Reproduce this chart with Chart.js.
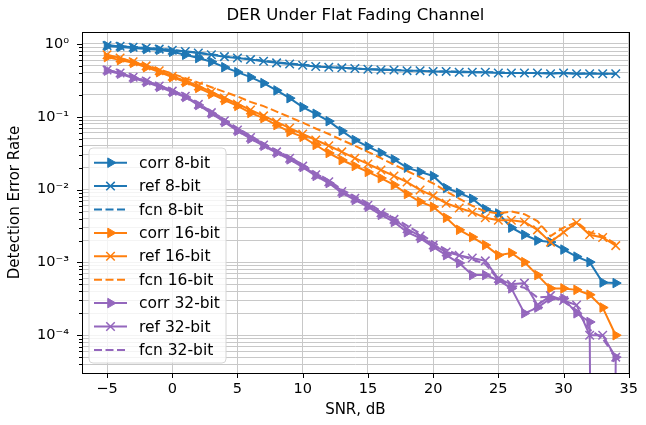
<!DOCTYPE html>
<html>
<head>
<meta charset="utf-8">
<script src="https://cdn.jsdelivr.net/npm/chart.js@4"></script>
<style>
  html, body { margin: 0; padding: 0; background: #fff; }
</style>
</head>
<body>
<canvas id="der" width="646" height="425"></canvas>
<script>
// SNR points (dB)
const snr = [-5, -4, -3, -2, -1, 0, 1, 2, 3, 4, 5, 6, 7, 8, 9, 10, 11, 12, 13, 14,
  15, 16, 17, 18, 19, 20, 21, 22, 23, 24, 25, 26, 27, 28, 29, 30, 31, 32, 33, 34];

// detection error rate
const corr8 = [0.94, 0.91, 0.88, 0.85, 0.83, 0.78, 0.71, 0.64, 0.57, 0.48, 0.41, 0.35, 0.29, 0.23, 0.18, 0.136, 0.11, 0.087, 0.064, 0.048,
  0.039, 0.032, 0.026, 0.020, 0.0175, 0.0154, 0.0105, 0.0090, 0.0075, 0.0054, 0.0047, 0.0030, 0.0024, 0.0020, 0.0019, 0.0015, 0.0012, 0.00101, 0.00053, 0.00052];
const ref8 = [0.95, 0.93, 0.90, 0.88, 0.85, 0.82, 0.79, 0.75, 0.71, 0.67, 0.64, 0.61, 0.58, 0.55, 0.53, 0.51, 0.49, 0.48, 0.47, 0.46,
  0.45, 0.44, 0.44, 0.43, 0.43, 0.42, 0.42, 0.41, 0.41, 0.41, 0.40, 0.40, 0.40, 0.40, 0.39, 0.40, 0.39, 0.39, 0.39, 0.39];
const fcn8 = [0.96, 0.93, 0.91, 0.88, 0.86, 0.83, 0.79, 0.76, 0.72, 0.68, 0.65, 0.62, 0.59, 0.56, 0.54, 0.52, 0.50, 0.48, 0.47, 0.46,
  0.45, 0.45, 0.44, 0.43, 0.43, 0.42, 0.42, 0.42, 0.41, 0.41, 0.41, 0.40, 0.40, 0.40, 0.40, 0.40, 0.39, 0.40, 0.39, 0.39];

const corr16 = [0.66, 0.60, 0.55, 0.48, 0.41, 0.35, 0.30, 0.249, 0.206, 0.170, 0.141, 0.113, 0.096, 0.077, 0.062, 0.053, 0.041, 0.0318, 0.0255, 0.0211,
  0.0175, 0.0144, 0.0116, 0.0087, 0.0068, 0.0058, 0.0041, 0.0028, 0.00223, 0.00173, 0.00126, 0.00135, 0.00101, 0.00067, 0.00044, 0.00044, 0.00042, 0.00036, 0.00024, 0.0001];
const ref16 = [0.71, 0.64, 0.57, 0.50, 0.43, 0.36, 0.31, 0.265, 0.219, 0.181, 0.150, 0.124, 0.103, 0.085, 0.070, 0.058, 0.048, 0.040, 0.033, 0.027,
  0.0225, 0.0186, 0.0154, 0.0127, 0.0099, 0.0082, 0.0065, 0.0056, 0.0049, 0.0041, 0.0038, 0.0038, 0.0036, 0.0028, 0.0019, 0.0026, 0.0035, 0.0024, 0.0022, 0.0017];
const fcn16 = [0.69, 0.63, 0.57, 0.51, 0.45, 0.39, 0.34, 0.295, 0.255, 0.22, 0.19, 0.16, 0.14, 0.118, 0.099, 0.083, 0.069, 0.058, 0.048, 0.040,
  0.033, 0.027, 0.022, 0.018, 0.0148, 0.0122, 0.0095, 0.0075, 0.0060, 0.0050, 0.0047, 0.0050, 0.0046, 0.0037, 0.0023, 0.0030, 0.0036, 0.0026, 0.0023, 0.0018];

const corr32 = [0.43, 0.39, 0.34, 0.30, 0.257, 0.219, 0.187, 0.145, 0.111, 0.085, 0.064, 0.050, 0.040, 0.032, 0.026, 0.0204, 0.0154, 0.0123, 0.0090, 0.0072,
  0.0058, 0.0045, 0.0036, 0.0026, 0.00216, 0.00163, 0.00126, 0.00098, 0.00067, 0.00067, 0.00057, 0.00044, 0.00020, 0.00024, 0.00032, 0.00032, 0.00020, 0.000152, 0, 0.00005];
const ref32 = [0.44, 0.40, 0.35, 0.31, 0.265, 0.225, 0.192, 0.148, 0.114, 0.088, 0.066, 0.052, 0.041, 0.033, 0.027, 0.021, 0.0160, 0.0128, 0.0094, 0.0076,
  0.0061, 0.0048, 0.0039, 0.0029, 0.0023, 0.00173, 0.00139, 0.00125, 0.00115, 0.00105, 0.00060, 0.00050, 0.00052, 0.00026, 0.00035, 0.00030, 0.00026, 0.0001, 0.0001, 0.00005];
const fcn32 = [0.44, 0.40, 0.36, 0.31, 0.27, 0.23, 0.195, 0.152, 0.118, 0.092, 0.070, 0.055, 0.043, 0.034, 0.028, 0.022, 0.0170, 0.0134, 0.0100, 0.0081,
  0.0065, 0.0051, 0.0041, 0.0032, 0.0025, 0.0019, 0.0015, 0.00125, 0.00110, 0.00095, 0.00058, 0.00048, 0.00045, 0.00033, 0.00034, 0.00029, 0.00022, 0.00012, 0.00009, 0.00005];

const labels = ["corr 8-bit", "ref 8-bit", "fcn 8-bit", "corr 16-bit", "ref 16-bit", "fcn 16-bit", "corr 32-bit", "ref 32-bit", "fcn 32-bit"];
const xTicks = [-5, 0, 5, 10, 15, 20, 25, 30, 35];
const decades = [-5, -4, -3, -2, -1, 0];
const mantissas = [1, 2, 3, 4, 5, 6, 7, 8, 9];

const BLUE = "#1f77b4";
const ORANGE = "#ff7f0e";
const PURPLE = "#9467bd";
const FONT = "'DejaVu Sans', sans-serif";
const Y_MIN = 3.03e-5;
const Y_MAX = 1.46;

const series = [
  [labels[0], corr8, BLUE, "corr"],
  [labels[1], ref8, BLUE, "ref"],
  [labels[2], fcn8, BLUE, "fcn"],
  [labels[3], corr16, ORANGE, "corr"],
  [labels[4], ref16, ORANGE, "ref"],
  [labels[5], fcn16, ORANGE, "fcn"],
  [labels[6], corr32, PURPLE, "corr"],
  [labels[7], ref32, PURPLE, "ref"],
  [labels[8], fcn32, PURPLE, "fcn"],
];

// zero errors fall off the bottom of a log axis, like matplotlib does
function floorZero(v) {
  return v > 0 ? v : 1e-30;
}

function makeDataset([label, values, color, kind], i) {
  const base = {
    label,
    data: snr.map((x, j) => ({ x, y: floorZero(values[j]) })),
    borderColor: color,
    backgroundColor: color,
    borderWidth: 2,
    tension: 0,
    order: series.length - i, // later series on top
  };
  if (kind === "corr") {
    return { ...base, pointStyle: "triangle", pointRotation: 90, pointRadius: 5.5, pointBorderWidth: 1 };
  }
  if (kind === "ref") {
    return { ...base, pointStyle: "crossRot", pointRadius: 6, pointBorderWidth: 1.5 };
  }
  return { ...base, pointRadius: 0, borderDash: [8, 3.5] };
}

const SUP = { "-": "\u207b", "0": "\u2070", "1": "\u00b9", "2": "\u00b2", "3": "\u00b3", "4": "\u2074", "5": "\u2075" };

function isDecade(v) {
  const e = Math.log10(v);
  return Math.abs(e - Math.round(e)) < 1e-9;
}

function decadeLabel(v) {
  const e = String(Math.round(Math.log10(v)));
  return "10" + e.split("").map((c) => SUP[c]).join("");
}

function drawMarker(ctx, kind, x, y, color) {
  ctx.save();
  ctx.strokeStyle = color;
  ctx.fillStyle = color;
  if (kind === "corr") {
    const r = 5.5;
    ctx.lineWidth = 1;
    ctx.beginPath();
    ctx.moveTo(x + r, y);
    ctx.lineTo(x - r / 2, y + r * 0.866);
    ctx.lineTo(x - r / 2, y - r * 0.866);
    ctx.closePath();
    ctx.fill();
    ctx.stroke();
  } else if (kind === "ref") {
    const d = 6 * Math.SQRT1_2;
    ctx.lineWidth = 1.5;
    ctx.beginPath();
    ctx.moveTo(x - d, y - d);
    ctx.lineTo(x + d, y + d);
    ctx.moveTo(x - d, y + d);
    ctx.lineTo(x + d, y - d);
    ctx.stroke();
  }
  ctx.restore();
}

const decorations = {
  id: "decorations",
  afterDatasetsDraw(chart) {
    const { ctx, chartArea: a } = chart;
    const yScale = chart.scales.y;
    const xScale = chart.scales.x;
    ctx.save();

    // spines
    ctx.strokeStyle = "#000";
    ctx.lineWidth = 1;
    ctx.strokeRect(Math.round(a.left) + 0.5, Math.round(a.top) + 0.5,
      Math.round(a.right - a.left), Math.round(a.bottom - a.top));

    // tick marks
    ctx.beginPath();
    xTicks.forEach((t) => {
      const px = Math.round(xScale.getPixelForValue(t)) + 0.5;
      ctx.moveTo(px, a.bottom);
      ctx.lineTo(px, a.bottom + 5);
    });
    yScale.ticks.forEach((t) => {
      const py = Math.round(yScale.getPixelForValue(t.value)) + 0.5;
      const len = isDecade(t.value) ? 5 : 3;
      ctx.moveTo(a.left - len, py);
      ctx.lineTo(a.left, py);
    });
    ctx.stroke();

    // legend
    const lx = 89, ly = 148, lw = 137, lh = 215, rad = 4;
    ctx.beginPath();
    ctx.moveTo(lx + rad, ly);
    ctx.arcTo(lx + lw, ly, lx + lw, ly + lh, rad);
    ctx.arcTo(lx + lw, ly + lh, lx, ly + lh, rad);
    ctx.arcTo(lx, ly + lh, lx, ly, rad);
    ctx.arcTo(lx, ly, lx + lw, ly, rad);
    ctx.closePath();
    ctx.fillStyle = "rgba(255,255,255,0.8)";
    ctx.fill();
    ctx.strokeStyle = "#d6d6d6";
    ctx.stroke();

    ctx.font = "15.5px " + FONT;
    ctx.textBaseline = "middle";
    ctx.textAlign = "left";
    series.forEach(([label, , color, kind], i) => {
      const cy = 162.7 + i * 23.4;
      ctx.save();
      ctx.strokeStyle = color;
      ctx.lineWidth = 2;
      if (kind === "fcn") ctx.setLineDash([8, 3.5]);
      ctx.beginPath();
      ctx.moveTo(94, cy);
      ctx.lineTo(127, cy);
      ctx.stroke();
      ctx.restore();
      drawMarker(ctx, kind, 110.5, cy, color);
      ctx.fillStyle = "#000";
      ctx.fillText(label, 139, cy + 1);
    });

    // title and axis labels
    const cx = (a.left + a.right) / 2;
    ctx.fillStyle = "#000";
    ctx.textAlign = "center";
    ctx.font = "16.5px " + FONT;
    ctx.fillText("DER Under Flat Fading Channel", cx, 16);
    ctx.font = "15px " + FONT;
    ctx.fillText("SNR, dB", cx, 410);
    ctx.translate(15, (a.top + a.bottom) / 2);
    ctx.rotate(-Math.PI / 2);
    ctx.fillText("Detection Error Rate", 0, 0);
    ctx.restore();
  },
};

const gridColor = "#c8c8c8";

new Chart(document.getElementById("der"), {
  type: "line",
  data: { datasets: series.map(makeDataset) },
  options: {
    responsive: false,
    devicePixelRatio: 1,
    animation: false,
    events: [],
    layout: { padding: { top: 32, right: 10, left: 0, bottom: 0 } },
    plugins: {
      legend: { display: false },
      title: { display: false },
      tooltip: { enabled: false },
    },
    scales: {
      x: {
        type: "linear",
        min: -6.92,
        max: 35,
        afterBuildTicks: (scale) => {
          scale.ticks = xTicks.map((value) => ({ value }));
        },
        afterFit: (scale) => {
          scale.height = 52;
        },
        ticks: {
          autoSkip: false,
          maxRotation: 0,
          padding: 8,
          color: "#000",
          font: { family: FONT, size: 14.5 },
          callback: (v) => String(v).replace("-", "\u2212"),
        },
        grid: { color: gridColor, lineWidth: 1, drawTicks: false },
        border: { display: false },
      },
      y: {
        type: "logarithmic",
        min: Y_MIN,
        max: Y_MAX,
        afterBuildTicks: (scale) => {
          const ticks = [];
          decades.forEach((d) => {
            mantissas.forEach((m) => {
              const value = m * Math.pow(10, d);
              if (value >= Y_MIN && value <= Y_MAX) ticks.push({ value, major: m === 1 });
            });
          });
          scale.ticks = ticks;
        },
        afterFit: (scale) => {
          scale.width = 82;
        },
        ticks: {
          autoSkip: false,
          padding: 13,
          color: "#000",
          font: { family: FONT, size: 14.5 },
          callback: (v) => (isDecade(v) ? decadeLabel(v) : ""),
        },
        grid: { color: gridColor, lineWidth: 1, drawTicks: false },
        border: { display: false },
      },
    },
  },
  plugins: [decorations],
});
</script>
</body>
</html>
